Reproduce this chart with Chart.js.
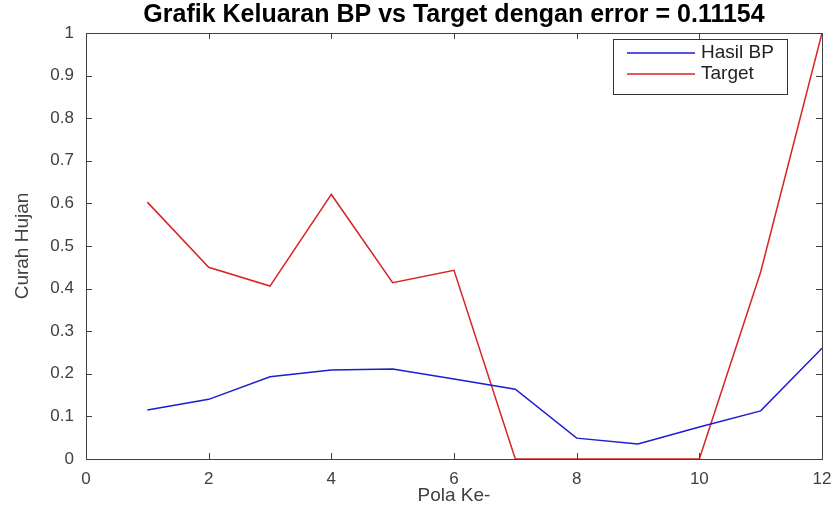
<!DOCTYPE html>
<html>
<head>
<meta charset="utf-8">
<script src="https://cdn.jsdelivr.net/npm/chart.js@4"></script>
<style>
  html, body { margin: 0; padding: 0; background: #fff; }
  #wrap { width: 836px; height: 516px; }
</style>
</head>
<body>
<div id="wrap"><canvas id="grafik"></canvas></div>
<script>
// data
var polaKe = [1, 2, 3, 4, 5, 6, 7, 8, 9, 10, 11, 12];
var hasilBP = [0.115, 0.140, 0.193, 0.209, 0.211, 0.188, 0.164, 0.049, 0.035, 0.075, 0.113, 0.260];
var target = [0.603, 0.450, 0.406, 0.621, 0.414, 0.443, 0, 0, 0, 0, 0.439, 1.0];
var seriesNames = ['Hasil BP', 'Target'];
var seriesColors = ['#1c1cd6', '#d82424'];
var judul = 'Grafik Keluaran BP vs Target dengan error = 0.11154';

var FONT = "'Liberation Sans', Arial, sans-serif";
var AXIS_COLOR = '#404040';

function toPoints(ys) {
    return polaKe.map((x, i) => ({x: x, y: ys[i]}));
}

// MATLAB style box with inward ticks on every side, title centred over the axes
var boxPlugin = {
    id: 'boxTicks',
    afterDatasetsDraw: (chart) => {
        let ctx = chart.ctx;
        let a = chart.chartArea;
        let len = 6;
        ctx.save();
        ctx.strokeStyle = AXIS_COLOR;
        ctx.lineWidth = 1;
        chart.scales.x.ticks.forEach(t => {
            let px = Math.round(chart.scales.x.getPixelForValue(t.value)) + 0.5;
            ctx.beginPath();
            ctx.moveTo(px, a.bottom); ctx.lineTo(px, a.bottom - len);
            ctx.moveTo(px, a.top); ctx.lineTo(px, a.top + len);
            ctx.stroke();
        });
        chart.scales.y.ticks.forEach(t => {
            let py = Math.round(chart.scales.y.getPixelForValue(t.value)) + 0.5;
            ctx.beginPath();
            ctx.moveTo(a.left, py); ctx.lineTo(a.left + len, py);
            ctx.moveTo(a.right, py); ctx.lineTo(a.right - len, py);
            ctx.stroke();
        });
        ctx.strokeRect(Math.round(a.left) + 0.5, Math.round(a.top) + 0.5,
            Math.round(a.right - a.left), Math.round(a.bottom - a.top));

        ctx.fillStyle = '#000';
        ctx.font = 'bold 25px ' + FONT;
        ctx.textAlign = 'center';
        ctx.textBaseline = 'middle';
        ctx.fillText(judul, (a.left + a.right) / 2, 15);
        ctx.restore();
    }
};

// legend box in the upper right corner of the axes
var legendPlugin = {
    id: 'insideLegend',
    afterDraw: (chart) => {
        let ctx = chart.ctx;
        let a = chart.chartArea;
        let boxW = 174, boxH = 55;
        let x0 = a.right - 35 - boxW, y0 = a.top + 6;
        ctx.save();
        ctx.fillStyle = '#fff';
        ctx.fillRect(x0, y0, boxW, boxH);
        ctx.strokeStyle = '#333';
        ctx.lineWidth = 1;
        ctx.strokeRect(x0 + 0.5, y0 + 0.5, boxW, boxH);
        ctx.font = '19px ' + FONT;
        ctx.textBaseline = 'middle';
        chart.data.datasets.forEach((ds, i) => {
            let yy = y0 + 14 + i * 21;
            ctx.strokeStyle = ds.borderColor;
            ctx.lineWidth = 1.5;
            ctx.beginPath();
            ctx.moveTo(x0 + 14, yy); ctx.lineTo(x0 + 82, yy);
            ctx.stroke();
            ctx.fillStyle = '#222';
            ctx.fillText(ds.label, x0 + 88, yy);
        });
        ctx.restore();
    }
};

var config = {
    type: 'line',
    data: {
        datasets: [
            {label: seriesNames[0], data: toPoints(hasilBP), borderColor: seriesColors[0], borderWidth: 1.5, pointRadius: 0, tension: 0, fill: false},
            {label: seriesNames[1], data: toPoints(target), borderColor: seriesColors[1], borderWidth: 1.5, pointRadius: 0, tension: 0, fill: false}
        ]
    },
    options: {
        responsive: false,
        animation: false,
        layout: {padding: {left: 0, right: 14, top: 33, bottom: 0}},
        plugins: {
            legend: {display: false},
            tooltip: {enabled: false},
            title: {display: false}
        },
        scales: {
            x: {
                type: 'linear', min: 0, max: 12,
                grid: {display: false},
                border: {display: false},
                ticks: {stepSize: 2, color: AXIS_COLOR, padding: 2, font: {family: FONT, size: 17}, maxRotation: 0},
                title: {display: true, text: 'Pola Ke-', color: AXIS_COLOR, font: {family: FONT, size: 19}, padding: {top: 0, bottom: 9}},
                afterFit: (s) => { s.height = 57; }
            },
            y: {
                type: 'linear', min: 0, max: 1,
                grid: {display: false},
                border: {display: false},
                ticks: {
                    stepSize: 0.1, color: AXIS_COLOR, padding: 4, font: {family: FONT, size: 17},
                    callback: (v) => String(Number(v.toFixed(1)))
                },
                title: {display: true, text: 'Curah Hujan', color: AXIS_COLOR, font: {family: FONT, size: 19}, padding: {top: 11, bottom: 0}},
                afterFit: (s) => { s.width = 86; }
            }
        }
    },
    plugins: [boxPlugin, legendPlugin]
};

var canvas = document.getElementById('grafik');
canvas.width = 836;
canvas.height = 516;
new Chart(canvas.getContext('2d'), config);
</script>
</body>
</html>
